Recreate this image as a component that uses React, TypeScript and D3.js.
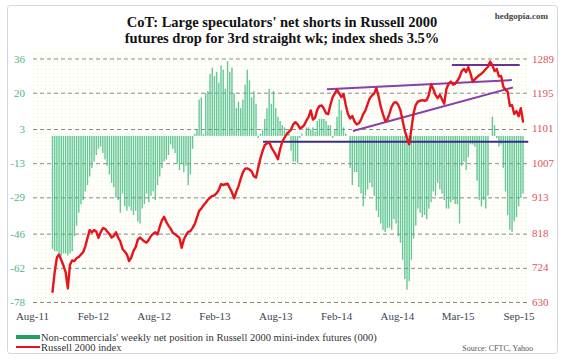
import * as React from "react";
import { scaleLinear, scalePoint, line as d3Line } from "d3";

// weekly net position of non-commercials, Russell 2000 mini futures (000 contracts)
const netPosition: number[] = [
  -53, -54, -54, -55, -56, -55, -55, -56, -55, -54,
  -47, -42, -36, -32, -30, -26, -23, -19, -15, -12,
  -9, -6, -5, -8, -11, -14, -18, -22, -24, -29,
  -30, -36, -27, -33, -35, -33, -35, -37, -35, -40,
  -41, -34, -32, -27, -31, -28, -26, -30, -23, -19,
  -15, -12, -11, -9, -4, -6, -8, -13, -16, -13,
  -17, -14, -23, -18, -6, 1, 3, 17, 18, 1,
  20, 21, 29, 32, 28, 30, 25, 33, 31, 22,
  35, 30, 32, 20, 13, 16, 13, 17, 24, 31,
  26, 18, 21, 15, -1, 1, 3, 8, 13, 22,
  15, 21, 13, 9, 7, 5, 4, 2, 1, -7,
  -12, -12, -13, -1, 1, 0, 4, 4, 3, 4,
  2, 7, 8, 8, 8, 7, 5, 5, -1, 3,
  9, 17, 12, 4, 1, 0, -15, -23, -17, -17,
  -24, -27, -33, -28, -25, -22, -24, -28, -35, -38,
  -41, -44, -45, -43, -43, -44, -39, -41, -47, -50,
  -58, -67, -72, -68, -58, -48, -42, -34, -36, -38,
  -37, -39, -34, -31, -26, -28, -22, -25, -27, -30,
  -34, -34, -31, -30, -32, -32, -41, -14, -12, -16,
  -10, -4, -4, -5, -21, -30, -33, -30, -34, -28,
  0, 9, 5, -1, -5, -4, -15, -26, -37, -44,
  -45, -40, -38, -33, -29, -27,
];

// Russell 2000 index, same weeks
const russell: number[] = [
  659, 712, 752, 760, 745, 730, 712, 668, 732, 744,
  742, 750, 753, 760, 766, 782, 805, 826, 820, 826,
  822, 805, 820, 831, 830, 822, 815, 806, 810, 820,
  806, 795, 775, 768, 760, 742, 752, 770, 780, 800,
  806, 800, 795, 792, 800, 810, 816, 820, 814, 835,
  852, 862, 848, 838, 830, 818, 815, 810, 805, 778,
  800, 812, 821, 823, 832, 842, 860, 878, 884, 893,
  900, 908, 914, 918, 920, 926, 935, 950, 948, 950,
  952, 940, 928, 912, 930, 945, 965, 982, 992, 993,
  990, 985, 972, 968, 995, 1020, 1040, 1056, 1060, 1064,
  1050, 1040, 1030, 1018, 1045, 1065, 1076, 1085, 1092, 1098,
  1112, 1118, 1112, 1102, 1104, 1110, 1122, 1132, 1150, 1125,
  1130, 1152, 1162, 1163, 1155, 1142, 1140, 1165, 1185, 1196,
  1206, 1196, 1186, 1194, 1165, 1140, 1128, 1135, 1120, 1112,
  1115, 1125, 1140, 1150, 1167, 1183, 1190, 1196, 1210, 1188,
  1160, 1140, 1122, 1125, 1142, 1160, 1170, 1172, 1165, 1150,
  1122, 1095, 1075, 1058, 1100, 1142, 1165, 1174, 1176, 1178,
  1176, 1178, 1192, 1220, 1208, 1192, 1183, 1192, 1180, 1168,
  1208, 1222, 1228, 1220, 1222, 1230, 1240, 1256, 1262, 1254,
  1267, 1250, 1228, 1234, 1240, 1245, 1249, 1255, 1262, 1268,
  1282, 1272, 1256, 1262, 1242, 1243, 1214, 1206, 1200, 1162,
  1164, 1140, 1148, 1134, 1156, 1120,
];

const leftTicks = [36, 20, 3, -13, -29, -46, -62, -78];
const rightTicks = [1289, 1195, 1101, 1007, 913, 818, 724, 630];
const xLabels = ["Aug-11", "Feb-12", "Aug-12", "Feb-13", "Aug-13", "Feb-14", "Aug-14", "Mar-15", "Sep-15"];

// hand-drawn trend lines: [week index, index level] pairs
const resistanceTop = [[182.5, 1273], [213.5, 1273]];
const upperTrend = [[125.4, 1207], [209.9, 1232]];
const lowerTrend = [[137.3, 1094], [210.4, 1212]];
const support = [[96.2, 1065], [217.4, 1065]];

const serif = "'Liberation Serif', 'Times New Roman', serif";

const App = () => {
  const plot = { left: 33, right: 528, top: 59, bottom: 302.5 };

  const x = scaleLinear().domain([0, netPosition.length - 1]).range([52.5, 523]);
  const yLeft = scaleLinear().domain([-78, 36]).range([plot.bottom, plot.top]);
  const yRight = scaleLinear().domain([630, 1289]).range([plot.bottom, plot.top]);
  const xLab = scalePoint<string>().domain(xLabels).range([32.5, 519]);

  const line = d3Line<number>()
    .x((_, i) => x(i))
    .y(d => yRight(d));

  const trend = d3Line<number[]>()
    .x(d => x(d[0]))
    .y(d => yRight(d[1]));

  const zero = yLeft(0);

  return (
    <svg
      width={565}
      height={362}
      style={{ position: "absolute", left: 0, top: 0, background: "#fff" }}
    >
      <defs>
        <pattern id="dots" width="4" height="4" patternUnits="userSpaceOnUse">
          <rect width="4" height="4" fill="#fffffb" />
          <rect x="1" y="1" width="1" height="1" fill="#f1eccb" />
        </pattern>
      </defs>
      <rect x={7.5} y={5.5} width={550} height={348} rx={3} fill="#fff" stroke="#cfd8e2" />
      <rect x={plot.left} y={50} width={plot.right - plot.left} height={258} fill="url(#dots)" />

      <text x={282} y={27} textAnchor="middle" fontFamily={serif} fontWeight="bold" fontSize={14.5} fill="#111">
        CoT: Large speculators' net shorts in Russell 2000
      </text>
      <text x={282} y={43} textAnchor="middle" fontFamily={serif} fontWeight="bold" fontSize={14.5} fill="#111">
        futures drop for 3rd straight wk; index sheds 3.5%
      </text>
      <text x={548} y={19} textAnchor="end" fontFamily={serif} fontWeight="bold" fontSize={9} fill="#444">
        hedgopia.com
      </text>

      {leftTicks.map(t => (
        <g key={"g" + t}>
          <line
            x1={plot.left}
            x2={plot.right}
            y1={yLeft(t)}
            y2={yLeft(t)}
            stroke="#8a8a8a"
            strokeDasharray="4,3"
          />
          <text x={25} y={yLeft(t) + 3.5} textAnchor="end" fontFamily={serif} fontSize={11} fill="#4cb783">
            {t}
          </text>
        </g>
      ))}
      {rightTicks.map(t => (
        <text key={"r" + t} x={532} y={yRight(t) + 3.5} fontFamily={serif} fontSize={11} fill="#e0525a">
          {t}
        </text>
      ))}

      {netPosition.map((v, i) => (
        <rect
          key={i}
          x={x(i) - 0.7}
          y={Math.min(yLeft(v), zero)}
          width={1.4}
          height={Math.abs(yLeft(v) - zero)}
          fill="#3dba7e"
          fillOpacity={0.8}
        />
      ))}

      <path d={trend(support) || ""} stroke="#3b2d8a" strokeWidth={2} fill="none" />
      <path d={trend(upperTrend) || ""} stroke="#8a3fa6" strokeWidth={2} fill="none" />
      <path d={trend(lowerTrend) || ""} stroke="#8a3fa6" strokeWidth={2} fill="none" />
      <path d={trend(resistanceTop) || ""} stroke="#6a2f9a" strokeWidth={2} fill="none" />

      <path
        d={line(russell) || ""}
        fill="none"
        stroke="#e8141b"
        strokeWidth={2.4}
        strokeLinejoin="round"
        strokeLinecap="round"
      />

      {xLabels.map(l => (
        <text key={l} x={xLab(l)} y={320} textAnchor="middle" fontFamily={serif} fontSize={11} fill="#3c4650">
          {l}
        </text>
      ))}

      <rect x={16} y={335} width={24} height={4} fill="#22a262" />
      <text x={41} y={340.5} fontFamily={serif} fontSize={10.5} fill="#333">
        Non-commercials' weekly net position in Russell 2000 mini-index futures (000)
      </text>
      <line x1={16} x2={40} y1={347} y2={347} stroke="#e8141b" strokeWidth={2} />
      <text x={41} y={350.5} fontFamily={serif} fontSize={10.5} fill="#333">
        Russell 2000 index
      </text>
      <text x={533} y={350.5} textAnchor="end" fontFamily={serif} fontSize={8} fill="#555">
        Source: CFTC, Yahoo
      </text>
    </svg>
  );
};

export default App;
